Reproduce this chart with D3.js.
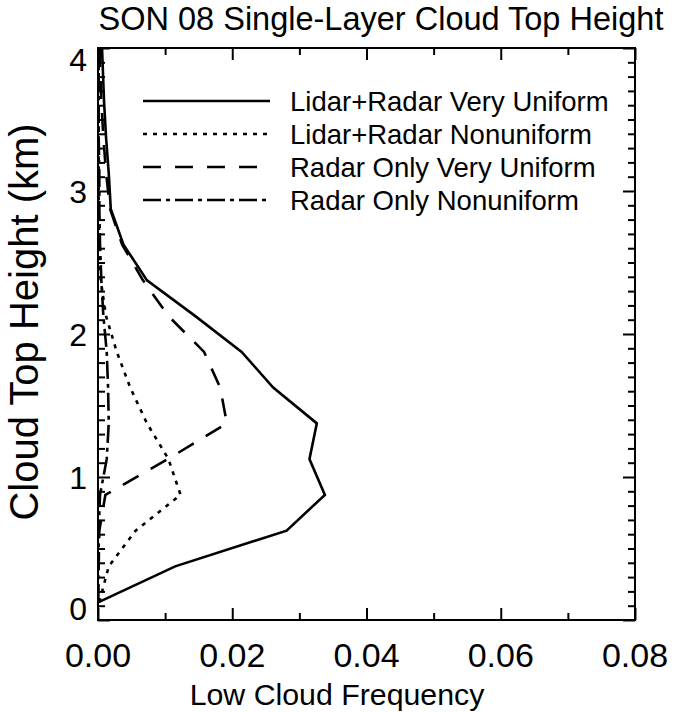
<!DOCTYPE html>
<html>
<head>
<meta charset="utf-8">
<script src="https://cdn.jsdelivr.net/npm/d3@7/dist/d3.min.js"></script>
<style>
  html, body { margin: 0; padding: 0; background: #fff; }
  svg { display: block; }
  text { font-family: "Liberation Sans", Arial, Helvetica, sans-serif; fill: #000; }
</style>
</head>
<body>
<svg id="chart" width="674" height="712"></svg>
<script>
// Cloud-top height bins (km, bin centres)
const heights = [0.125, 0.375, 0.625, 0.875, 1.125, 1.375, 1.625, 1.875, 2.125,
                 2.375, 2.625, 2.875, 3.125, 3.375, 3.625, 3.875, 4.125];

// Low cloud frequency per height bin, one array per category
const lidarRadarVeryUniform = [0.0001, 0.0115, 0.0281, 0.0338, 0.0315, 0.0326, 0.0261, 0.0214, 0.0145,
                               0.0073, 0.0038, 0.0019, 0.0016, 0.0012, 0.0009, 0.0007, 0.0005];
const lidarRadarNonuniform  = [0.0002, 0.0016, 0.0056, 0.0123, 0.0105, 0.0073, 0.0048, 0.0028, 0.0012,
                               0.0004, 0.0002, 0.0001, 0.0001, 0.0001, 0.0001, 0.0001, 0.0001];
const radarOnlyVeryUniform  = [0.0000, 0.0001, 0.0002, 0.0011, 0.0104, 0.0192, 0.0182, 0.0158, 0.0105,
                               0.0067, 0.0036, 0.0018, 0.0012, 0.0008, 0.0005, 0.0003, 0.0002];
const radarOnlyNonuniform   = [0.0000, 0.0001, 0.0001, 0.0003, 0.0013, 0.0016, 0.0015, 0.0013, 0.0008,
                               0.0005, 0.0003, 0.0002, 0.0002, 0.0001, 0.0001, 0.0001, 0.0001];

const seriesNames = ["Lidar+Radar Very Uniform", "Lidar+Radar Nonuniform",
                     "Radar Only Very Uniform", "Radar Only Nonuniform"];
const seriesValues = [lidarRadarVeryUniform, lidarRadarNonuniform,
                      radarOnlyVeryUniform, radarOnlyNonuniform];
const seriesDash = [null, "4,6", "18,14", "18,5,4,5"];

const xTicks = [0.00, 0.02, 0.04, 0.06, 0.08];
const xTickLabels = ["0.00", "0.02", "0.04", "0.06", "0.08"];
const xMinorTicks = [0.01, 0.03, 0.05, 0.07];
const yTicks = [0, 1, 2, 3, 4];
const yTickLabels = ["0", "1", "2", "3", "4"];

const titleText = "SON 08 Single-Layer Cloud Top Height";
const xTitle = "Low Cloud Frequency";
const yTitle = "Cloud Top Height (km)";

// Layout
const plot = { left: 98, right: 635, top: 48, bottom: 620 };
const svg = d3.select("#chart");

const x = d3.scaleLinear().domain([0, 0.08]).range([plot.left, plot.right]);
const y = d3.scaleLinear().domain([0, 4]).range([plot.bottom, plot.top]);

const yMinorTicks = d3.range(0, 41).map(i => i / 10).filter(v => Math.abs(v - Math.round(v)) > 1e-6);

// Clip region for the curves
svg.append("defs").append("clipPath").attr("id", "plotClip")
  .append("rect")
  .attr("x", plot.left).attr("y", plot.top)
  .attr("width", plot.right - plot.left).attr("height", plot.bottom - plot.top);

// Axes with inward-pointing ticks on all four sides
function addAxis(axisFn, scale, values, size, transform) {
  const g = svg.append("g").attr("transform", transform)
    .call(axisFn(scale).tickValues(values).tickSize(size).tickSizeOuter(0).tickFormat(""));
  g.select(".domain").remove();
  g.selectAll(".tick line").attr("stroke", "#000").attr("stroke-width", 2);
  return g;
}
const majorLen = 12, minorLen = 7;
addAxis(d3.axisBottom, x, xTicks, -majorLen, `translate(0,${plot.bottom})`);
addAxis(d3.axisBottom, x, xMinorTicks, -minorLen, `translate(0,${plot.bottom})`);
addAxis(d3.axisTop, x, xTicks, -majorLen, `translate(0,${plot.top})`);
addAxis(d3.axisTop, x, xMinorTicks, -minorLen, `translate(0,${plot.top})`);
addAxis(d3.axisLeft, y, yTicks, -majorLen, `translate(${plot.left},0)`);
addAxis(d3.axisLeft, y, yMinorTicks, -minorLen, `translate(${plot.left},0)`);
addAxis(d3.axisRight, y, yTicks, -majorLen, `translate(${plot.right},0)`);
addAxis(d3.axisRight, y, yMinorTicks, -minorLen, `translate(${plot.right},0)`);

// Frame
svg.append("rect")
  .attr("x", plot.left).attr("y", plot.top)
  .attr("width", plot.right - plot.left).attr("height", plot.bottom - plot.top)
  .attr("fill", "none").attr("stroke", "#000").attr("stroke-width", 2);

// Tick labels
svg.append("g").selectAll("text").data(xTicks).join("text")
  .attr("x", d => x(d)).attr("y", 667)
  .attr("text-anchor", "middle").attr("font-size", 34)
  .text((d, i) => xTickLabels[i]);

svg.append("g").selectAll("text").data(yTicks).join("text")
  .attr("x", plot.left - 11)
  .attr("y", (d, i) => {
    if (i === 0) return y(d);                       // bottom label sits above the corner
    if (i === yTicks.length - 1) return y(d) + 23;  // top label sits below the corner
    return y(d) + 11.5;
  })
  .attr("text-anchor", "end").attr("font-size", 32)
  .text((d, i) => yTickLabels[i]);

// Titles
svg.append("text").attr("x", 381).attr("y", 30)
  .attr("text-anchor", "middle").attr("font-size", 32.5).text(titleText);
svg.append("text").attr("x", 337).attr("y", 705)
  .attr("text-anchor", "middle").attr("font-size", 30.3).text(xTitle);
svg.append("text")
  .attr("transform", `translate(38,322) rotate(-90)`)
  .attr("text-anchor", "middle").attr("font-size", 40).text(yTitle);

// Curves
const line = d3.line()
  .x(d => x(d[0]))
  .y(d => y(d[1]));

svg.append("g").attr("clip-path", "url(#plotClip)")
  .selectAll("path").data(seriesValues).join("path")
  .attr("d", vals => line(vals.map((v, i) => [v, heights[i]])))
  .attr("fill", "none").attr("stroke", "#000").attr("stroke-width", 2.6)
  .attr("stroke-linejoin", "miter")
  .attr("stroke-dasharray", (d, i) => seriesDash[i]);

// Legend
const legendRows = [101, 134, 167, 200];
const legend = svg.append("g");
seriesNames.forEach((name, i) => {
  legend.append("line")
    .attr("x1", 143).attr("x2", 270)
    .attr("y1", legendRows[i]).attr("y2", legendRows[i])
    .attr("stroke", "#000").attr("stroke-width", 2.6)
    .attr("stroke-dasharray", seriesDash[i]);
  legend.append("text")
    .attr("x", 290).attr("y", legendRows[i] + 9.5)
    .attr("font-size", 27.5).text(name);
});
</script>
</body>
</html>
